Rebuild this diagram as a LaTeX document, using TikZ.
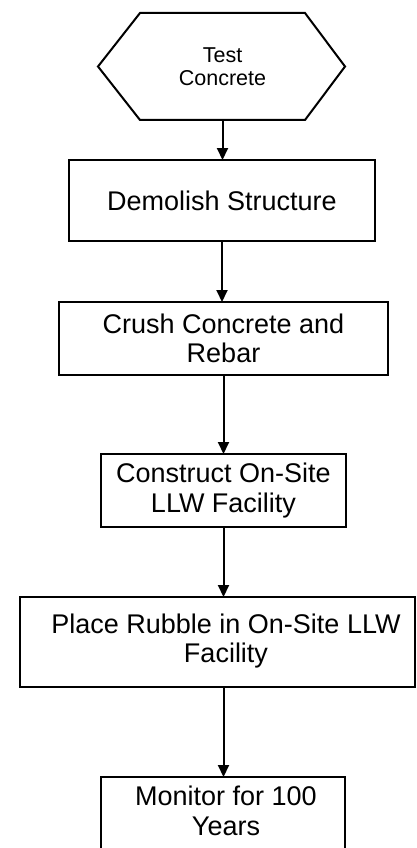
\documentclass[tikz,border=0pt]{standalone}
\usepackage{fontspec}
\setmainfont{Liberation Sans}
\usetikzlibrary{arrows.meta}
\tikzset{
  stepbox/.style={draw, line width=2pt, rectangle, inner sep=0pt, outer sep=0pt, anchor=north west},
  label text/.style={align=center, font=\fontsize{27}{29.5}\selectfont, inner sep=0pt},
  flow/.style={line width=2pt, -{Triangle[width=11pt,length=12pt]}},
}
\begin{document}
\begin{tikzpicture}[x=1pt,y=-1pt]
  \useasboundingbox (0,0) rectangle (416,848);
  % start terminal: hexagon built around an invisible frame
  \node[inner sep=0pt, outer sep=0pt, minimum width=165pt, minimum height=107pt,
        anchor=north west, align=center, font=\fontsize{21.5}{23}\selectfont] (hex) at (140,13) {Test\\Concrete};
  \draw[line width=2pt, line join=miter]
    (hex.north west) -- (hex.north east) -- ([xshift=40pt]hex.east)
    -- (hex.south east) -- (hex.south west) -- ([xshift=-42pt]hex.west) -- cycle;
  % process steps
  \node[stepbox, minimum width=306pt, minimum height=81pt, label text] (demolish) at (69,160) {Demolish Structure};
  \node[stepbox, minimum width=329pt, minimum height=73pt, label text] (crush) at (59,302) {Crush Concrete and\\Rebar};
  \node[stepbox, minimum width=245pt, minimum height=73pt, label text] (construct) at (101,454) {Construct On-Site\\LLW Facility};
  \node[stepbox, minimum width=395pt, minimum height=90pt] (place) at (20,597) {};
  \node[label text] (placetext) at (226,641) {Place Rubble in On-Site LLW\\Facility};
  \node[stepbox, minimum width=244pt, minimum height=95pt] (monitor) at (101,777) {};
  \node[label text] (monitortext) at (226,811) {Monitor for 100\\Years};
  % connectors
  \draw[flow] (hex.south) -- (hex.south |- demolish.north);
  \draw[flow] (demolish.south) -- (demolish.south |- crush.north);
  \draw[flow] (crush.south) -- (crush.south |- construct.north);
  \draw[flow] (construct.south) -- (construct.south |- place.north);
  \draw[flow] (construct.south |- place.south) -- (construct.south |- monitor.north);
\end{tikzpicture}
\end{document}
